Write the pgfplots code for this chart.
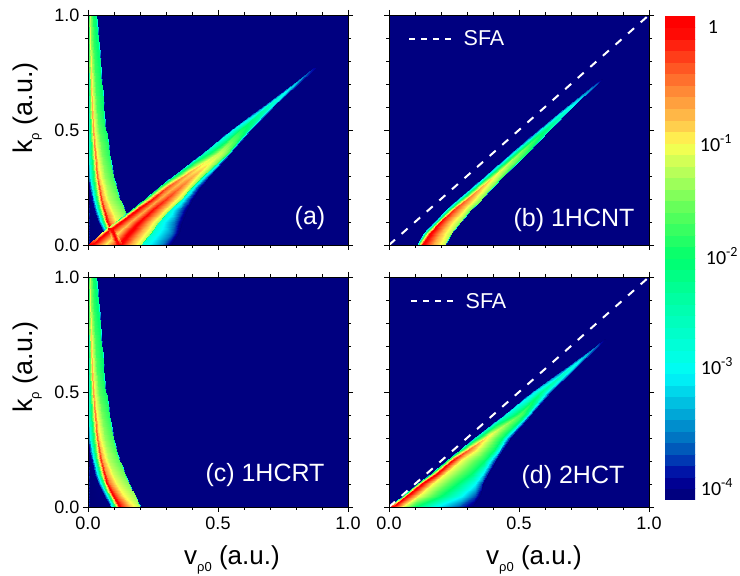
\documentclass[border=0pt]{standalone}
\usepackage{fontspec}
\setmainfont{Liberation Sans}
\newfontfamily\cbfont{Carlito}
\usepackage{pgfplots}
\pgfplotsset{compat=1.18}
\definecolor{navyback}{RGB}{0,0,128}
\pgfplotsset{
  colormap={jetlog}{
    rgb255(0pt)=(0,0,120); rgb255(1pt)=(0,0,135); rgb255(2pt)=(0,0,160); rgb255(3pt)=(0,40,175);
    rgb255(5pt)=(0,105,190); rgb255(8pt)=(0,180,220); rgb255(11pt)=(0,250,250); rgb255(12pt)=(0,255,235);
    rgb255(17pt)=(0,255,170); rgb255(21pt)=(0,255,110); rgb255(25pt)=(90,255,90); rgb255(28pt)=(170,255,90);
    rgb255(30pt)=(225,255,85); rgb255(31pt)=(255,255,80); rgb255(32pt)=(255,220,80); rgb255(33pt)=(255,195,75);
    rgb255(36pt)=(255,125,50); rgb255(38pt)=(255,75,30); rgb255(40pt)=(255,20,10); rgb255(41pt)=(255,0,0); rgb255(42pt)=(255,0,0)
  },
  panel/.style={
    anchor=south west, scale only axis, width=260pt, height=230pt,
    xmin=0,xmax=1,ymin=0,ymax=1,
    xtick={0,0.5,1}, ytick={0,0.5,1}, minor tick num=4,
    tick align=outside, major tick length=5pt, minor tick length=3pt,
    axis line style={black,line width=0.8pt},
    every tick/.style={black,line width=0.7pt},
    axis background/.style={fill=navyback},
    point meta min=-4.1, point meta max=0.1,
    tick label style={font=\fontsize{18}{20}\selectfont},
    /pgf/number format/assume math mode=true,
    /pgf/number format/fixed, /pgf/number format/fixed zerofill, /pgf/number format/precision=1,
    xticklabel style={yshift=-1pt}, yticklabel style={xshift=0pt},
    axis on top,
  },
  band/.style={surf, shader=interp, point meta=explicit, mesh/cols=#1, forget plot},
  sfa/.style={white,line width=2pt,dash pattern=on 8pt off 8.8pt, no marks, forget plot},
}
\newcommand{\lab}{\fontsize{25}{28}\selectfont}
\newcommand{\sub}[1]{\raisebox{-7pt}{\fontsize{13}{13}\selectfont #1}}
\newcommand{\falling}{
\addplot[band=10] coordinates {
(0,0)[-3.6] (.006,0)[-4.1] (.085,0)[-4.05] (.092,0)[-3.0] (.105,0)[-1.8] (.12,0)[.1] (.132,0)[-.2] (.165,0)[-.85] (.201,0)[-1.25] (.204,0)[-4.1]
(0,.025)[-3.6] (.006,.025)[-4.1] (.075,.025)[-4.05] (.083,.025)[-3.0] (.094,.025)[-1.8] (.108,.025)[.1] (.12,.025)[-.25] (.15,.025)[-.9] (.19,.025)[-1.3] (.193,.025)[-4.1]
(0,.05)[-3.6] (.006,.05)[-4.1] (.063,.05)[-4.05] (.073,.05)[-3.0] (.084,.05)[-1.8] (.097,.05)[.1] (.108,.05)[-.3] (.135,.05)[-.95] (.179,.05)[-1.35] (.182,.05)[-4.1]
(0,.075)[-3.6] (.006,.075)[-4.1] (.05,.075)[-4.05] (.06,.075)[-3.0] (.07,.075)[-1.8] (.085,.075)[.05] (.096,.075)[-.4] (.122,.075)[-1.0] (.168,.075)[-1.4] (.171,.075)[-4.1]
(0,.1)[-3.6] (.006,.1)[-4.1] (.04,.1)[-4.05] (.05,.1)[-3.0] (.06,.1)[-1.8] (.073,.1)[0] (.083,.1)[-.5] (.11,.1)[-1.05] (.158,.1)[-1.45] (.161,.1)[-4.1]
(0,.15)[-3.6] (.006,.15)[-4.1] (.025,.15)[-4.0] (.035,.15)[-3.0] (.045,.15)[-1.8] (.06,.15)[-.1] (.07,.15)[-.6] (.095,.15)[-1.15] (.138,.15)[-1.55] (.141,.15)[-4.1]
(0,.2)[-3.6] (.005,.2)[-4.1] (.014,.2)[-3.9] (.024,.2)[-3.0] (.034,.2)[-1.8] (.05,.2)[-.2] (.058,.2)[-.7] (.082,.2)[-1.25] (.122,.2)[-1.65] (.125,.2)[-4.1]
(0,.25)[-3.5] (.004,.25)[-4.0] (.008,.25)[-3.7] (.015,.25)[-3.0] (.028,.25)[-1.8] (.042,.25)[-.3] (.05,.25)[-.8] (.072,.25)[-1.3] (.108,.25)[-1.7] (.111,.25)[-4.1]
(0,.3)[-3.2] (.002,.3)[-3.6] (.004,.3)[-3.4] (.008,.3)[-2.9] (.023,.3)[-1.8] (.036,.3)[-.4] (.043,.3)[-.9] (.064,.3)[-1.4] (.097,.3)[-1.75] (.1,.3)[-4.1]
(0,.4)[-2.8] (.001,.4)[-2.9] (.002,.4)[-2.9] (.004,.4)[-2.7] (.017,.4)[-1.7] (.028,.4)[-.5] (.034,.4)[-1] (.052,.4)[-1.5] (.08,.4)[-1.85] (.083,.4)[-4.1]
(0,.5)[-2.6] (.001,.5)[-2.6] (.002,.5)[-2.6] (.003,.5)[-2.6] (.012,.5)[-1.6] (.021,.5)[-.65] (.026,.5)[-1.1] (.042,.5)[-1.6] (.068,.5)[-1.95] (.071,.5)[-4.1]
(0,.6)[-2.5] (.0005,.6)[-2.5] (.001,.6)[-2.5] (.002,.6)[-2.5] (.009,.6)[-1.6] (.017,.6)[-.75] (.022,.6)[-1.2] (.035,.6)[-1.7] (.059,.6)[-2] (.062,.6)[-4.1]
(0,.7)[-2.4] (.0005,.7)[-2.4] (.001,.7)[-2.4] (.002,.7)[-2.4] (.007,.7)[-1.6] (.013,.7)[-.85] (.018,.7)[-1.25] (.03,.7)[-1.75] (.052,.7)[-2.05] (.055,.7)[-4.1]
(0,.8)[-2.4] (.0005,.8)[-2.4] (.001,.8)[-2.4] (.002,.8)[-2.4] (.005,.8)[-1.7] (.01,.8)[-.95] (.014,.8)[-1.35] (.026,.8)[-1.8] (.046,.8)[-2.1] (.049,.8)[-4.1]
(0,.9)[-2.4] (.0005,.9)[-2.4] (.001,.9)[-2.4] (.002,.9)[-2.4] (.004,.9)[-1.8] (.008,.9)[-1.05] (.012,.9)[-1.45] (.023,.9)[-1.85] (.039,.9)[-2.15] (.042,.9)[-4.1]
(0,1)[-2.3] (.0005,1)[-2.3] (.001,1)[-2.3] (.002,1)[-2.3] (.003,1)[-1.9] (.006,1)[-1.15] (.01,1)[-1.5] (.02,1)[-1.9] (.031,1)[-2.2] (.034,1)[-4.1]
};}
\begin{document}
\begin{tikzpicture}[x=1pt,y=1pt]
\path[use as bounding box] (0,0) rectangle (740,576);
% panel (a)
\begin{axis}[panel, at={(88pt,331pt)}, xticklabels={}]
\falling
\addplot[band=10] coordinates {
(0,0)[.1] (.001,0)[.1] (.01,0)[.1] (.065,0)[-1.0] (.12,0)[.1] (.16,0)[-.7] (.20,0)[-1.2] (.205,0)[-2.7] (.28,0)[-3.5] (.32,0)[-4.1]
(.05,.05)[-1.0] (.054,.05)[-1.0] (.065,.05)[.1] (.115,.05)[-.9] (.158,.05)[.1] (.20,.05)[-.7] (.24,.05)[-1.25] (.245,.05)[-2.7] (.32,.05)[-3.5] (.35,.05)[-4.1]
(.105,.1)[-1.3] (.109,.1)[-1.3] (.125,.1)[.1] (.162,.1)[-.75] (.198,.1)[.05] (.235,.1)[-.7] (.27,.1)[-1.3] (.275,.1)[-2.7] (.335,.1)[-3.6] (.362,.1)[-4.1]
(.16,.15)[-4.1] (.164,.15)[-2] (.185,.15)[.1] (.218,.15)[-.7] (.248,.15)[-.05] (.285,.15)[-.75] (.312,.15)[-1.3] (.317,.15)[-2.7] (.355,.15)[-3.6] (.38,.15)[-4.1]
(.215,.2)[-4.1] (.219,.2)[-2] (.245,.2)[-.02] (.273,.2)[-.7] (.30,.2)[-.2] (.335,.2)[-.85] (.356,.2)[-1.3] (.361,.2)[-2.7] (.385,.2)[-3.6] (.405,.2)[-4.1]
(.27,.25)[-4.1] (.275,.25)[-2.1] (.305,.25)[-.3] (.33,.25)[-.75] (.352,.25)[-.45] (.38,.25)[-.95] (.397,.25)[-1.35] (.402,.25)[-2.7] (.42,.25)[-3.6] (.436,.25)[-4.1]
(.325,.3)[-4.1] (.33,.3)[-2.2] (.37,.3)[-.6] (.385,.3)[-.85] (.405,.3)[-.7] (.425,.3)[-1.05] (.44,.3)[-1.4] (.445,.3)[-2.7] (.46,.3)[-3.6] (.468,.3)[-4.1]
(.437,.4)[-4.1] (.445,.4)[-2.6] (.50,.4)[-1.2] (.51,.4)[-1.2] (.52,.4)[-1.3] (.53,.4)[-1.5] (.538,.4)[-1.8] (.542,.4)[-2.6] (.547,.4)[-3.6] (.55,.4)[-4.1]
(.545,.5)[-4.1] (.553,.5)[-3] (.585,.5)[-1.9] (.595,.5)[-1.9] (.60,.5)[-1.95] (.608,.5)[-2.05] (.615,.5)[-2.2] (.62,.5)[-2.8] (.625,.5)[-3.6] (.628,.5)[-4.1]
(.665,.6)[-4.1] (.672,.6)[-3.4] (.685,.6)[-2.5] (.69,.6)[-2.5] (.695,.6)[-2.6] (.70,.6)[-2.7] (.705,.6)[-3] (.708,.6)[-3.3] (.71,.6)[-3.7] (.713,.6)[-4.1]
(.785,.7)[-4.1] (.789,.7)[-3.6] (.793,.7)[-3.2] (.796,.7)[-3.2] (.799,.7)[-3.3] (.801,.7)[-3.4] (.803,.7)[-3.5] (.805,.7)[-3.7] (.807,.7)[-3.8] (.81,.7)[-4.1]
(.865,.77)[-4.1] (.866,.77)[-3.9] (.867,.77)[-3.9] (.868,.77)[-3.9] (.869,.77)[-3.9] (.87,.77)[-3.9] (.871,.77)[-3.9] (.872,.77)[-3.9] (.873,.77)[-3.9] (.874,.77)[-4.1]
};
\addplot[band=3] coordinates {
(.076,.075)[.1] (.083,.075)[.1] (.092,.075)[.1]
(.09,.035)[-.85] (.103,.035)[.1] (.116,.035)[-.8]
(.108,0)[-.2] (.12,0)[.1] (.13,0)[0]
};
\end{axis}
% panel (b)
\begin{axis}[panel, at={(389pt,331pt)}, xticklabels={}, yticklabels={}]
\addplot[band=7] coordinates {
(.103,0)[-4.1] (.107,0)[-3] (.113,0)[-1.7] (.128,0)[.1] (.17,0)[-.7] (.213,0)[-1.2] (.216,0)[-4.1]
(.13,.05)[-4.1] (.135,.05)[-3] (.142,.05)[-1.7] (.158,.05)[.1] (.20,.05)[-.75] (.24,.05)[-1.3] (.243,.05)[-4.1]
(.17,.1)[-4.1] (.176,.1)[-3] (.184,.1)[-1.8] (.198,.1)[0] (.235,.1)[-.8] (.272,.1)[-1.4] (.275,.1)[-4.1]
(.215,.15)[-4.1] (.221,.15)[-3] (.23,.15)[-1.85] (.248,.15)[-.2] (.283,.15)[-.9] (.312,.15)[-1.5] (.315,.15)[-4.1]
(.263,.2)[-4.1] (.27,.2)[-3] (.28,.2)[-1.9] (.30,.2)[-.45] (.33,.2)[-1.0] (.356,.2)[-1.55] (.359,.2)[-4.1]
(.365,.3)[-4.1] (.372,.3)[-3] (.383,.3)[-2] (.405,.3)[-.95] (.425,.3)[-1.35] (.44,.3)[-1.75] (.443,.3)[-4.1]
(.465,.4)[-4.1] (.472,.4)[-3.2] (.483,.4)[-2.3] (.50,.4)[-1.4] (.518,.4)[-1.7] (.53,.4)[-2.0] (.533,.4)[-4.1]
(.57,.5)[-4.1] (.577,.5)[-3.4] (.585,.5)[-2.6] (.60,.5)[-2.05] (.608,.5)[-2.2] (.615,.5)[-2.4] (.618,.5)[-4.1]
(.675,.6)[-4.1] (.68,.6)[-3.6] (.69,.6)[-3] (.695,.6)[-2.8] (.70,.6)[-2.9] (.705,.6)[-3.0] (.708,.6)[-4.1]
(.792,.7)[-4.1] (.794,.7)[-3.8] (.796,.7)[-3.7] (.797,.7)[-3.6] (.798,.7)[-3.6] (.80,.7)[-3.7] (.802,.7)[-4.1]
(.815,.72)[-4.1] (.816,.72)[-4.1] (.817,.72)[-4.1] (.818,.72)[-4.1] (.819,.72)[-4.1] (.82,.72)[-4.1] (.821,.72)[-4.1]
};
\addplot[sfa] coordinates {(0,0) (1,1)};
\addplot[white,line width=1.8pt,dash pattern=on 6pt off 6pt, no marks, forget plot] coordinates {(.077,.896) (.242,.896)};
\end{axis}
% panel (c)
\begin{axis}[panel, at={(88pt,69pt)}]
\falling
\end{axis}
% panel (d)
\begin{axis}[panel, at={(389pt,69pt)}, yticklabels={}]
\addplot[band=8] coordinates {
(0,0)[.1] (.002,0)[.1] (.01,0)[.1] (.05,0)[-1] (.10,0)[-2] (.18,0)[-3] (.27,0)[-3.7] (.32,0)[-4.1]
(.05,.05)[-4.1] (.053,.05)[-2] (.065,.05)[.1] (.11,.05)[-1] (.20,.05)[-2] (.28,.05)[-3] (.33,.05)[-3.7] (.35,.05)[-4.1]
(.105,.1)[-4.1] (.109,.1)[-2] (.125,.1)[.1] (.165,.1)[-1] (.26,.1)[-2] (.33,.1)[-3] (.352,.1)[-3.7] (.362,.1)[-4.1]
(.16,.15)[-4.1] (.164,.15)[-2.1] (.185,.15)[.1] (.22,.15)[-1] (.32,.15)[-2] (.362,.15)[-3] (.378,.15)[-3.7] (.385,.15)[-4.1]
(.215,.2)[-4.1] (.219,.2)[-2.2] (.24,.2)[0] (.275,.2)[-1] (.365,.2)[-2] (.388,.2)[-3] (.403,.2)[-3.7] (.412,.2)[-4.1]
(.27,.25)[-4.1] (.274,.25)[-2.3] (.305,.25)[-.4] (.335,.25)[-1] (.405,.25)[-2] (.422,.25)[-3] (.432,.25)[-3.7] (.44,.25)[-4.1]
(.325,.3)[-4.1] (.33,.3)[-2.5] (.37,.3)[-.9] (.39,.3)[-1.2] (.435,.3)[-2] (.45,.3)[-3] (.46,.3)[-3.7] (.468,.3)[-4.1]
(.437,.4)[-4.1] (.445,.4)[-2.8] (.50,.4)[-1.6] (.51,.4)[-1.75] (.525,.4)[-2.2] (.535,.4)[-3] (.542,.4)[-3.7] (.548,.4)[-4.1]
(.545,.5)[-4.1] (.553,.5)[-3.2] (.585,.5)[-2.2] (.59,.5)[-2.3] (.60,.5)[-2.6] (.612,.5)[-3.2] (.618,.5)[-3.7] (.622,.5)[-4.1]
(.67,.6)[-4.1] (.675,.6)[-3.5] (.69,.6)[-2.7] (.695,.6)[-2.8] (.70,.6)[-2.9] (.707,.6)[-3.3] (.71,.6)[-3.7] (.713,.6)[-4.1]
(.793,.7)[-4.1] (.795,.7)[-3.7] (.797,.7)[-3.6] (.798,.7)[-3.6] (.799,.7)[-3.6] (.80,.7)[-3.7] (.802,.7)[-3.8] (.805,.7)[-4.1]
(.825,.73)[-4.1] (.826,.73)[-4.1] (.827,.73)[-4.1] (.828,.73)[-4.1] (.829,.73)[-4.1] (.83,.73)[-4.1] (.831,.73)[-4.1] (.832,.73)[-4.1]
};
\addplot[sfa] coordinates {(0,0) (1,1)};
\addplot[white,line width=1.8pt,dash pattern=on 6pt off 6pt, no marks, forget plot] coordinates {(.085,.896) (.254,.896)};
\end{axis}
% colour scale
\begin{axis}[anchor=south west, at={(665pt,76pt)}, scale only axis, width=30pt, height=484pt, hide axis,
  xmin=0,xmax=1,ymin=-4.1,ymax=0.1, point meta min=-4.1, point meta max=0.1]
\addplot[surf, shader=flat, mesh/cols=2, point meta=y, forget plot] coordinates {
(0,-4.1)(1,-4.1)(0,-4.0)(1,-4.0)(0,-3.9)(1,-3.9)(0,-3.8)(1,-3.8)(0,-3.7)(1,-3.7)(0,-3.6)(1,-3.6)(0,-3.5)(1,-3.5)
(0,-3.4)(1,-3.4)(0,-3.3)(1,-3.3)(0,-3.2)(1,-3.2)(0,-3.1)(1,-3.1)(0,-3.0)(1,-3.0)(0,-2.9)(1,-2.9)(0,-2.8)(1,-2.8)
(0,-2.7)(1,-2.7)(0,-2.6)(1,-2.6)(0,-2.5)(1,-2.5)(0,-2.4)(1,-2.4)(0,-2.3)(1,-2.3)(0,-2.2)(1,-2.2)(0,-2.1)(1,-2.1)
(0,-2.0)(1,-2.0)(0,-1.9)(1,-1.9)(0,-1.8)(1,-1.8)(0,-1.7)(1,-1.7)(0,-1.6)(1,-1.6)(0,-1.5)(1,-1.5)(0,-1.4)(1,-1.4)
(0,-1.3)(1,-1.3)(0,-1.2)(1,-1.2)(0,-1.1)(1,-1.1)(0,-1.0)(1,-1.0)(0,-0.9)(1,-0.9)(0,-0.8)(1,-0.8)(0,-0.7)(1,-0.7)
(0,-0.6)(1,-0.6)(0,-0.5)(1,-0.5)(0,-0.4)(1,-0.4)(0,-0.3)(1,-0.3)(0,-0.2)(1,-0.2)(0,-0.1)(1,-0.1)(0,0.0)(1,0.0)(0,0.1)(1,0.1)
};
\end{axis}
% text
\foreach \yy/\xx in {468/32,209/32} {
  \node[rotate=90,anchor=base,inner sep=0pt] at (\xx,\yy) {\fontsize{27}{30}\selectfont k\sub{ρ} (a.u.)};
}
\foreach \xx in {232,534} {
  \node[anchor=base,inner sep=0pt] at (\xx,11) {\fontsize{26}{28}\selectfont v\sub{ρ0} (a.u.)};
}
\node[white,inner sep=0pt] at (310,358) {\lab (a)};
\node[white,inner sep=0pt] at (574,356) {\lab (b) 1HCNT};
\node[white,inner sep=0pt] at (265,101) {\lab (c) 1HCRT};
\node[white,inner sep=0pt] at (573,99) {\lab (d) 2HCT};
\node[white,inner sep=0pt] at (484,538) {\fontsize{21.5}{24}\selectfont SFA};
\node[white,inner sep=0pt] at (486,275) {\fontsize{21.5}{24}\selectfont SFA};
\node[inner sep=0pt] at (713,549) {\cbfont\fontsize{20}{22}\selectfont 1};
\node[inner sep=0pt] at (716,433) {\cbfont\fontsize{20}{22}\selectfont 10\textsuperscript{-1}};
\node[inner sep=0pt] at (722,320) {\cbfont\fontsize{20}{22}\selectfont 10\textsuperscript{-2}};
\node[inner sep=0pt] at (717,210) {\cbfont\fontsize{20}{22}\selectfont 10\textsuperscript{-3}};
\node[inner sep=0pt] at (717,89) {\cbfont\fontsize{20}{22}\selectfont 10\textsuperscript{-4}};
\end{tikzpicture}
\end{document}
